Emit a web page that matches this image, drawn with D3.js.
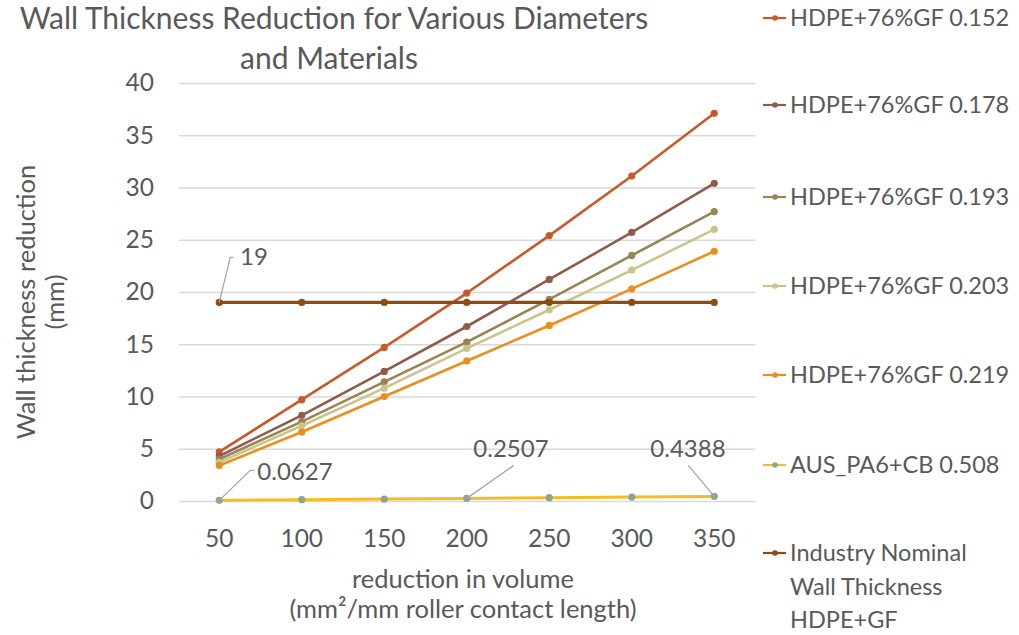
<!DOCTYPE html>
<html>
<head>
<meta charset="utf-8">
<script src="https://cdn.jsdelivr.net/npm/d3@7/dist/d3.min.js"></script>
<style>
  html, body { margin: 0; padding: 0; background: #ffffff; }
  svg { display: block; font-family: Lato, "Open Sans", sans-serif; }
</style>
</head>
<body>
<svg id="chart" width="1019" height="635"></svg>
<script>
// Contact volume categories (mm²/mm roller contact length)
const categories = ["50", "100", "150", "200", "250", "300", "350"];

// Wall thickness reduction (mm) per material
const hdpe152 = [4.7, 9.7, 14.7, 19.9, 25.4, 31.1, 37.1];
const hdpe178 = [4.3, 8.2, 12.4, 16.7, 21.2, 25.7, 30.4];
const hdpe193 = [4.0, 7.6, 11.4, 15.2, 19.3, 23.5, 27.7];
const hdpe203 = [3.7, 7.2, 10.8, 14.6, 18.3, 22.1, 26.0];
const hdpe219 = [3.4, 6.6, 10.0, 13.4, 16.8, 20.3, 23.9];
const pa6cb508 = [0.0627, 0.1254, 0.1881, 0.2507, 0.3134, 0.3761, 0.4388];
const nominalWall = [19, 19, 19, 19, 19, 19, 19];

const seriesNames = [
  "HDPE+76%GF 0.152",
  "HDPE+76%GF 0.178",
  "HDPE+76%GF 0.193",
  "HDPE+76%GF 0.203",
  "HDPE+76%GF 0.219",
  "AUS_PA6+CB 0.508",
  "Industry Nominal Wall Thickness HDPE+GF"
];
const yTicks = [0, 5, 10, 15, 20, 25, 30, 35, 40];

const seriesValues = [hdpe152, hdpe178, hdpe193, hdpe203, hdpe219, pa6cb508, nominalWall];
const lineColors = ["#c9592b", "#8f5c4b", "#9a8354", "#c9c48c", "#ec8d1f", "#f4bd24", "#8c4d12"];
const markerColors = ["#c9592b", "#8f5c4b", "#9a8354", "#c9c48c", "#ec8d1f", "#8fa391", "#8c4d12"];
const lineWidths = [2.6, 2.6, 2.6, 2.6, 2.6, 3, 3.2];

const series = seriesNames.map((name, i) => ({
  name, values: seriesValues[i], color: lineColors[i], marker: markerColors[i], width: lineWidths[i]
}));

const svg = d3.select("#chart");
const textColor = "#595959";
const plot = { left: 178, right: 755.5, top: 83, bottom: 501 };

const x = d3.scaleBand().domain(categories).range([plot.left, plot.right]).padding(0);
const cx = c => x(c) + x.bandwidth() / 2;
const y = d3.scaleLinear().domain([0, 40]).range([plot.bottom, plot.top]);

// Title
const title = svg.append("text")
  .attr("text-anchor", "middle")
  .attr("fill", textColor).style("font-size", "30px");
title.append("tspan").attr("x", 334).attr("y", 29).text("Wall Thickness Reduction for Various Diameters");
title.append("tspan").attr("x", 329).attr("y", 69).text("and Materials");

// Horizontal gridlines
svg.append("g")
  .attr("transform", `translate(${plot.left + 1},0)`)
  .call(d3.axisLeft(y).tickValues(yTicks).tickSize(-(plot.right - plot.left - 1)).tickFormat(""))
  .call(g => g.select(".domain").remove())
  .call(g => g.selectAll(".tick line").attr("stroke", "#d9d9d9").attr("stroke-width", 1.3));

// Y axis labels
svg.append("g")
  .attr("transform", `translate(${plot.left},0)`)
  .call(d3.axisLeft(y).tickValues(yTicks).tickSize(0).tickPadding(24))
  .call(g => g.select(".domain").remove())
  .call(g => g.selectAll("text").attr("fill", textColor).style("font-size", "24.5px").style("font-family", "Lato, sans-serif"));

// X axis labels
svg.append("g")
  .attr("transform", `translate(0,${plot.bottom})`)
  .call(d3.axisBottom(x).tickSize(0).tickPadding(46))
  .call(g => g.select(".domain").remove())
  .call(g => g.selectAll("text").attr("fill", textColor).style("font-size", "24.5px").style("font-family", "Lato, sans-serif").attr("dy", "0"));

// Axis titles
const yTitle = svg.append("text")
  .attr("transform", "translate(0,302) rotate(-90)")
  .attr("text-anchor", "middle").attr("fill", textColor).style("font-size", "25.5px");
yTitle.append("tspan").attr("x", 0).attr("y", 35).text("Wall thickness reduction");
yTitle.append("tspan").attr("x", 0).attr("y", 64).text("(mm)");

const xTitle = svg.append("text")
  .attr("text-anchor", "middle").attr("fill", textColor).style("font-size", "25.5px");
xTitle.append("tspan").attr("x", 463).attr("y", 588).text("reduction in volume");
xTitle.append("tspan").attr("x", 463).attr("y", 618).text("(mm²/mm roller contact length)");

// Series lines and markers
const line = d3.line().x((d, i) => cx(categories[i])).y(d => y(d));
const seriesG = svg.append("g");
series.forEach(s => {
  const g = seriesG.append("g");
  g.append("path").datum(s.values)
    .attr("d", line).attr("fill", "none")
    .attr("stroke", s.color).attr("stroke-width", s.width)
    .attr("stroke-linejoin", "round");
  g.selectAll("circle").data(s.values).join("circle")
    .attr("cx", (d, i) => cx(categories[i])).attr("cy", d => y(d))
    .attr("r", 3.6).attr("fill", s.marker);
});
// draw the AUS and nominal lines above the others
seriesG.selectAll(":scope > g").filter((d, i) => i >= 5).raise();

// Data labels with leader lines
const leader = "#a6a6a6";
function dataLabel(text, tx, ty, path) {
  svg.append("path").attr("d", path).attr("fill", "none").attr("stroke", leader).attr("stroke-width", 1.3);
  svg.append("text").attr("x", tx).attr("y", ty).attr("text-anchor", "middle")
    .attr("fill", textColor).style("font-size", "24px").text(text);
}
{
  const px = cx(categories[0]), py = y(nominalWall[0]);
  dataLabel(String(nominalWall[0]), 254, 265,
    `M${px},${py}L${px + 11},${py - 45}L${px + 14},${py - 45}`);
}
{
  const px = cx(categories[0]), py = y(pa6cb508[0]);
  dataLabel(String(pa6cb508[0]), 295, 480,
    `M${px},${py}L${px + 31},${py - 30}L${px + 35},${py - 30}`);
}
{
  const px = cx(categories[3]), py = y(pa6cb508[3]);
  dataLabel(String(pa6cb508[3]), 511, 457, `M${px},${py}L${px + 47},${py - 33}`);
}
{
  const px = cx(categories[6]), py = y(pa6cb508[6]);
  dataLabel(String(pa6cb508[6]), 688, 457, `M${px},${py}L${px - 26},${py - 31}`);
}

// Legend
const legendY = [18, 105, 197, 286, 375, 465, 553];
const legend = svg.append("g");
series.forEach((s, i) => {
  const ly = legendY[i];
  legend.append("line").attr("x1", 763).attr("x2", 786).attr("y1", ly).attr("y2", ly)
    .attr("stroke", s.color).attr("stroke-width", 2.2);
  legend.append("circle").attr("cx", 775).attr("cy", ly).attr("r", 2.8).attr("fill", s.marker);
  const t = legend.append("text").attr("fill", textColor).style("font-size", "23.5px");
  const lines = i === 6 ? ["Industry Nominal", "Wall Thickness", "HDPE+GF"] : [s.name];
  lines.forEach((ln, k) => {
    t.append("tspan").attr("x", 790).attr("y", ly + 8 + k * 33.5).text(ln);
  });
});
</script>
</body>
</html>
